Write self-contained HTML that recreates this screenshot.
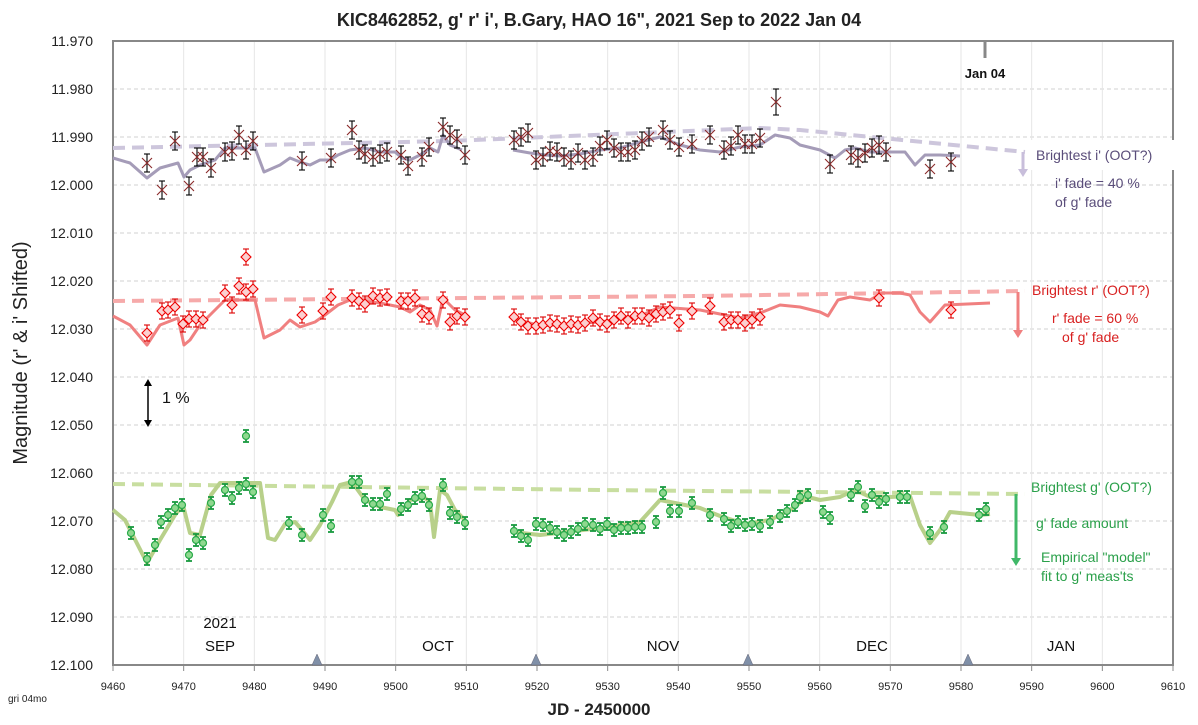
<!DOCTYPE html>
<html><head><meta charset="utf-8"><style>
body{margin:0;background:#fff;}
svg{display:block;font-family:"Liberation Sans",Calibri,sans-serif;}
</style></head><body>
<svg id="s" width="1198" height="725" viewBox="0 0 1198 725" xmlns="http://www.w3.org/2000/svg">
<rect width="1198" height="725" fill="#fff"/>
<g id="grid"></g>
<rect x="113" y="41" width="1060" height="624" fill="none" stroke="#888" stroke-width="2"/>
<text x="599" y="26" text-anchor="middle" font-size="18" font-weight="bold" fill="#222">KIC8462852, g' r' i', B.Gary, HAO 16", 2021 Sep to 2022 Jan 04</text>
<text x="599" y="715" text-anchor="middle" font-size="17" font-weight="bold" fill="#222">JD - 2450000</text>
<text transform="translate(27,353) rotate(-90)" text-anchor="middle" font-size="20" fill="#222">Magnitude  (r' &amp; i' Shifted)</text>
<text x="8" y="702" font-size="10" fill="#222">gri 04mo</text>
<line x1="985" y1="41" x2="985" y2="58" stroke="#888" stroke-width="3"/>
<text x="985" y="78" text-anchor="middle" font-size="13" font-weight="bold" fill="#111">Jan 04</text>
<text x="220" y="628" text-anchor="middle" font-size="15" fill="#111">2021</text>
<text x="220" y="651" text-anchor="middle" font-size="15" fill="#111">SEP</text>
<text x="438" y="651" text-anchor="middle" font-size="15" fill="#111">OCT</text>
<text x="663" y="651" text-anchor="middle" font-size="15" fill="#111">NOV</text>
<text x="872" y="651" text-anchor="middle" font-size="15" fill="#111">DEC</text>
<text x="1061" y="651" text-anchor="middle" font-size="15" fill="#111">JAN</text>
<g fill="#8090a8" stroke="#667" stroke-width="0.5">
<polygon points="312,665 317,654 322,665"/><polygon points="531,665 536,654 541,665"/><polygon points="743,665 748,654 753,665"/><polygon points="963,665 968,654 973,665"/></g>
<line x1="148" y1="384" x2="148" y2="422" stroke="#000" stroke-width="1.5"/>
<polygon points="144,386 148,379 152,386" fill="#000"/><polygon points="144,420 148,427 152,420" fill="#000"/>
<text x="162" y="403" font-size="16" fill="#111">1 %</text>
<g id="series"></g>
<rect x="1030" y="140" width="145" height="30" fill="#fff"/>
<text x="1036" y="160" font-size="14" fill="#5a4d7a">Brightest i' (OOT?)</text>
<text x="1055" y="188" font-size="14" fill="#5a4d7a">i' fade = 40 %</text>
<text x="1055" y="207" font-size="14" fill="#5a4d7a">of g' fade</text>
<text x="1032" y="295" font-size="14" fill="#d82020">Brightest r' (OOT?)</text>
<text x="1052" y="323" font-size="14" fill="#d82020">r' fade = 60 %</text>
<text x="1062" y="342" font-size="14" fill="#d82020">of g' fade</text>
<text x="1031" y="492" font-size="14" fill="#2aa04a">Brightest g' (OOT?)</text>
<text x="1036" y="528" font-size="14" fill="#2aa04a">g' fade amount</text>
<text x="1041" y="562" font-size="14" fill="#2aa04a">Empirical "model"</text>
<text x="1041" y="581" font-size="14" fill="#2aa04a">fit to g' meas'ts</text>
</svg>
<script>
const NS="http://www.w3.org/2000/svg";
function el(p,t,a,txt){const e=document.createElementNS(NS,t);for(const k in a)e.setAttribute(k,a[k]);if(txt!==undefined)e.textContent=txt;p.appendChild(e);return e;}
const g=document.getElementById('grid'),s=document.getElementById('series');
for(let i=0;i<=13;i++){const y=41+i*48;
 if(i>0&&i<13)el(g,'line',{x1:113,x2:1173,y1:y,y2:y,stroke:'#d0d0d0','stroke-dasharray':'4,3'});
 el(g,'text',{x:93,y:y+5,'text-anchor':'end','font-size':14,fill:'#222'},(11.97+i*0.01).toFixed(3));}
for(let i=0;i<=15;i++){const x=113+i*1060/15;
 if(i>0&&i<15)el(g,'line',{x1:x,x2:x,y1:41,y2:665,stroke:'#e6e6e6'});
 el(g,'line',{x1:x,x2:x,y1:665,y2:671,stroke:'#888'});
 el(g,'text',{x:x,y:690,'text-anchor':'middle','font-size':11,fill:'#222'},9460+i*10);}
function line(pts,col,w,dash,op){el(s,'polyline',{points:pts.map(p=>p.join(',')).join(' '),fill:'none',stroke:col,'stroke-width':w,'stroke-dasharray':dash||'', 'stroke-linejoin':'round',opacity:op||1});}
line([[113,148],[450,141],[760,128],[800,130],[1025,152]],'#cdc6dc',4,'12,7');
line([[113,301],[700,296],[1025,291]],'#f6aaaa',4,'12,7');
line([[113,484],[600,490],[1025,494]],'#c8dea0',4,'12,7');
const iM=[[113,158],[130,163],[147,178],[160,168],[178,163],[184,177],[190,170],[200,165],[215,160],[225,148],[255,148],[264,172],[280,165],[290,158],[300,162],[310,165],[320,160],[330,160],[338,155],[350,150],[365,148],[380,152],[395,152],[402,158],[410,160],[420,155],[430,148],[438,152],[443,135],[450,145],[462,150]];
const iM2=[[513,150],[530,153],[545,155],[560,156],[580,154],[600,150],[620,148],[640,142],[660,137],[680,145],[700,150],[720,152],[740,147],[760,145],[775,135],[790,138],[800,145],[820,150],[835,158],[845,150],[855,148],[870,152],[890,152],[905,152],[915,165],[925,155],[940,155],[960,156]];
line(iM,'#a59cb8',3);line(iM2,'#a59cb8',3);
const rM=[[113,316],[130,325],[147,345],[160,325],[178,318],[184,345],[190,340],[200,325],[215,310],[225,300],[255,300],[264,338],[280,330],[290,320],[300,327],[315,322],[325,315],[338,305],[350,300],[380,303],[400,307],[410,312],[420,305],[430,310],[437,326],[443,298],[455,310],[465,315]];
const rM2=[[513,318],[540,326],[600,322],[640,316],[660,307],[700,310],[740,318],[760,313],[780,305],[800,307],[820,312],[828,316],[838,300],[850,297],[870,300],[882,293],[900,293],[910,295],[920,312],[930,322],[945,305],[990,303]];
line(rM,'#f08080',3);line(rM2,'#f08080',3);
const gM=[[113,510],[125,520],[147,563],[160,540],[175,515],[183,505],[190,533],[200,535],[211,495],[220,483],[260,483],[268,538],[275,540],[285,524],[295,522],[302,530],[310,540],[320,525],[332,502],[340,485],[352,482],[365,500],[380,507],[395,510],[398,515],[410,500],[425,498],[430,502],[434,537],[440,490],[447,495],[455,510],[465,520]];
const gM2=[[513,532],[540,535],[600,528],[640,522],[660,500],[680,504],[700,508],[720,516],[745,524],[770,520],[790,510],[808,497],[820,500],[840,497],[855,490],[870,497],[890,497],[910,496],[920,525],[930,543],[940,530],[950,512],[980,515],[990,514]];
line(gM,'#b8d08a',4);line(gM2,'#b8d08a',4);
function arrow(x,y1,y2,c){el(s,'line',{x1:x,x2:x,y1:y1,y2:y2-6,stroke:c,'stroke-width':3});el(s,'polygon',{points:`${x-5},${y2-8} ${x},${y2} ${x+5},${y2-8}`,fill:c});}
arrow(1023,152,177,'#c8bedb');arrow(1018,292,338,'#f08080');arrow(1016,494,566,'#40b868');
const iP=[[147,163],[162,190],[175,141],[189,186],[197,157],[203,157],[211,168],[225,152],[232,151],[239,135],[246,150],[253,141],[302,161],[331,158],[352,130],[359,150],[365,154],[373,157],[380,154],[387,152],[401,155],[408,166],[422,157],[429,147],[443,127],[450,135],[457,139],[465,155],[514,140],[521,137],[528,133],[536,160],[543,157],[550,151],[557,152],[564,157],[571,160],[578,153],[585,160],[593,157],[600,146],[607,140],[614,148],[621,152],[628,152],[635,150],[642,141],[649,137],[663,130],[670,140],[679,147],[692,144],[710,135],[724,150],[731,146],[738,135],[745,144],[752,144],[760,138],[776,102],[830,164],[851,155],[858,158],[865,153],[872,148],[879,145],[886,152],[930,169],[951,162]];
const rP=[[147,333],[162,311],[168,310],[175,307],[183,324],[189,319],[196,319],[203,320],[225,293],[232,305],[239,286],[246,292],[246,257],[253,289],[302,315],[323,311],[331,297],[352,298],[359,301],[365,304],[373,296],[380,298],[387,297],[401,301],[408,301],[415,298],[422,314],[429,316],[443,300],[450,322],[457,316],[465,317],[514,317],[521,322],[528,326],[536,326],[543,325],[550,323],[557,324],[564,326],[571,324],[578,325],[585,323],[593,318],[600,322],[607,324],[614,320],[621,316],[628,320],[635,316],[642,316],[649,318],[656,314],[663,312],[670,310],[679,323],[692,311],[710,306],[724,322],[731,320],[738,320],[745,323],[752,320],[760,317],[879,298],[951,310]];
const gP=[[131,533],[147,559],[155,545],[161,522],[168,515],[175,508],[182,505],[189,555],[196,540],[203,543],[211,503],[225,490],[232,498],[239,488],[246,484],[246,436],[253,492],[289,523],[302,535],[323,515],[331,526],[352,482],[359,482],[365,500],[373,504],[380,504],[387,494],[401,509],[408,505],[415,498],[422,496],[429,505],[443,485],[450,513],[457,517],[465,523],[514,531],[521,536],[528,540],[536,524],[543,525],[550,528],[557,532],[564,535],[571,532],[578,529],[585,524],[593,525],[600,529],[607,524],[614,530],[621,528],[628,528],[635,527],[642,527],[656,522],[663,493],[670,511],[679,511],[692,503],[710,515],[724,519],[731,526],[738,522],[745,525],[752,524],[760,526],[770,522],[780,516],[787,511],[795,505],[800,497],[808,495],[823,512],[830,518],[851,495],[858,487],[865,506],[872,495],[879,502],[886,499],[900,497],[907,497],[930,533],[944,527],[979,515],[986,509]];
function eb(x,y,h,c,w){el(s,'line',{x1:x,x2:x,y1:y-h,y2:y+h,stroke:c,'stroke-width':w});el(s,'line',{x1:x-3,x2:x+3,y1:y-h,y2:y-h,stroke:c,'stroke-width':w});el(s,'line',{x1:x-3,x2:x+3,y1:y+h,y2:y+h,stroke:c,'stroke-width':w});}
iP.forEach(([x,y])=>{const h=(x==776)?13:9;eb(x,y,h,'#000',1.1);el(s,'path',{d:`M${x-5},${y-5}L${x+5},${y+5}M${x-5},${y+5}L${x+5},${y-5}`,stroke:'#8b2a2a','stroke-width':1.1});});
rP.forEach(([x,y])=>{eb(x,y,8,'#d00',1.1);el(s,'polygon',{points:`${x},${y-5} ${x+5},${y} ${x},${y+5} ${x-5},${y}`,fill:'#fbd0d0',stroke:'#e00','stroke-width':1.1});});
gP.forEach(([x,y])=>{eb(x,y,6,'#1a9a40',1.8);el(s,'circle',{cx:x,cy:y,r:3.5,fill:'#8fd88f',stroke:'#2aaa4a','stroke-width':1.2});});
</script>
</body></html>
